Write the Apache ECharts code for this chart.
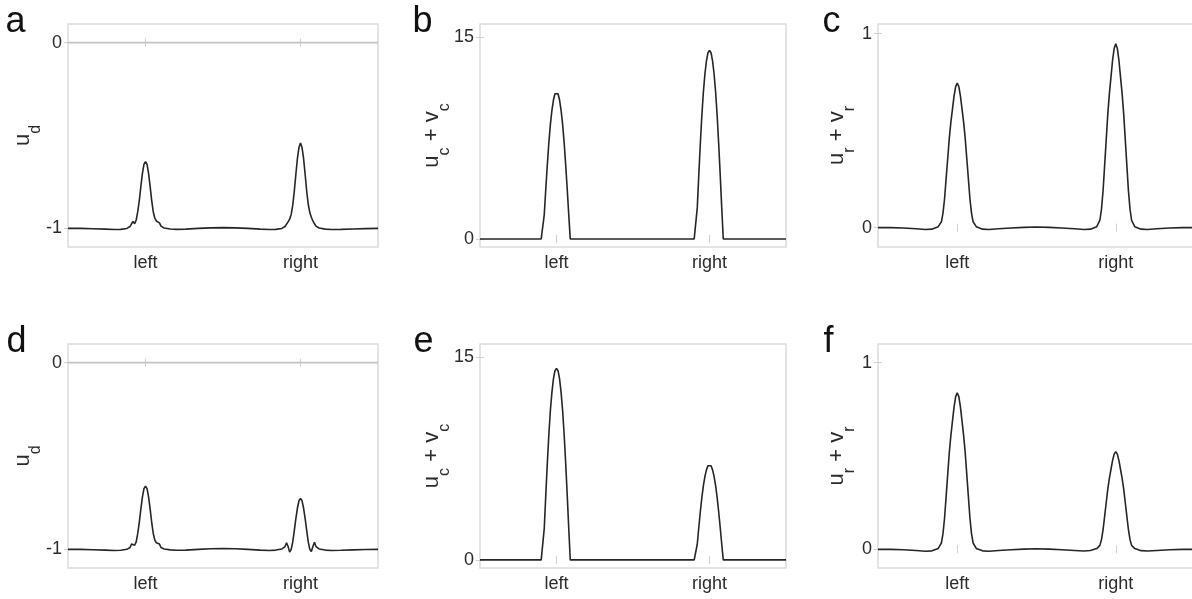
<!DOCTYPE html>
<html>
<head>
<meta charset="utf-8">
<script src="https://cdn.jsdelivr.net/npm/echarts@6/dist/echarts.min.js"></script>
<style>
html,body{margin:0;padding:0;background:#fff;}
#chart{width:1192px;height:599px;}
</style>
</head>
<body>
<div id="chart"></div>
<script>
// shared sample positions along the track (0 = start, 1 = end)
const xs = [0, 0.04, 0.08, 0.12, 0.15, 0.17, 0.19,
  0.2, 0.205, 0.21, 0.215, 0.22, 0.225, 0.23, 0.235, 0.24, 0.245, 0.25, 0.255, 0.26, 0.265, 0.27, 0.275, 0.28, 0.285, 0.29, 0.295, 0.3,
  0.31, 0.33, 0.35, 0.38, 0.42, 0.46, 0.5, 0.54, 0.58, 0.62, 0.65, 0.67, 0.69,
  0.7, 0.705, 0.71, 0.715, 0.72, 0.725, 0.73, 0.735, 0.74, 0.745, 0.75, 0.755, 0.76, 0.765, 0.77, 0.775, 0.78, 0.785, 0.79, 0.795, 0.8,
  0.81, 0.83, 0.85, 0.88, 0.92, 0.96, 1];

const xTickPos = [0.25, 0.75];
const xTickLabels = ['left', 'right'];

// panel a: u_d
const udA = [-1.0, -1.0, -1.002, -1.004, -1.006, -1.005, -1.0,
  -0.99, -0.975, -0.963, -0.975, -0.955, -0.91, -0.85, -0.775, -0.705, -0.655, -0.64, -0.655, -0.705, -0.775, -0.85, -0.91, -0.945, -0.96, -0.963, -0.97, -0.988,
  -0.998, -1.003, -1.005, -1.004, -1.0, -0.997, -0.996, -0.997, -1.0, -1.004, -1.006, -1.005, -1.0,
  -0.99, -0.98, -0.965, -0.95, -0.925, -0.875, -0.8, -0.71, -0.625, -0.565, -0.54, -0.565, -0.625, -0.71, -0.8, -0.87, -0.915, -0.94, -0.96, -0.975, -0.988,
  -0.998, -1.004, -1.006, -1.005, -1.003, -1.001, -1.0];
// panel b: u_c + v_c
const scB = [0, 0, 0, 0, 0, 0, 0,
  0, 0, 1.81, 3.72, 5.52, 7.17, 8.53, 9.57, 10.34, 10.81, 10.94, 10.81, 10.34, 9.57, 8.53, 7.17, 5.52, 3.72, 1.81, 0, 0,
  0, 0, 0, 0, 0, 0, 0, 0, 0, 0, 0, 0, 0,
  0, 0, 2.31, 4.77, 7.09, 9.19, 10.94, 12.28, 13.26, 13.86, 14.03, 13.86, 13.26, 12.28, 10.94, 9.19, 7.09, 4.77, 2.31, 0, 0,
  0, 0, 0, 0, 0, 0, 0];
// panel c: u_r + v_r
const srC = [0, 0.0, -0.002, -0.006, -0.01, -0.008, 0.005,
  0.03, 0.075, 0.149, 0.254, 0.358, 0.463, 0.545, 0.612, 0.679, 0.727, 0.746, 0.727, 0.679, 0.612, 0.545, 0.463, 0.358, 0.254, 0.149, 0.075, 0.03,
  0.005, -0.008, -0.01, -0.006, -0.002, 0.001, 0.003, 0.001, -0.002, -0.006, -0.01, -0.008, 0.005,
  0.038, 0.095, 0.19, 0.322, 0.455, 0.588, 0.692, 0.777, 0.863, 0.924, 0.948, 0.924, 0.863, 0.777, 0.692, 0.588, 0.455, 0.322, 0.19, 0.095, 0.038,
  0.005, -0.008, -0.01, -0.006, -0.002, 0.0, 0];
// panel d: u_d
const udD = [-1.0, -1.0, -1.002, -1.004, -1.006, -1.005, -1.0,
  -0.99, -0.972, -0.962, -0.978, -0.96, -0.915, -0.855, -0.785, -0.72, -0.675, -0.661, -0.675, -0.72, -0.785, -0.855, -0.915, -0.95, -0.965, -0.96, -0.972, -0.99,
  -0.998, -1.003, -1.005, -1.004, -1.0, -0.997, -0.996, -0.997, -1.0, -1.004, -1.006, -1.004, -0.998,
  -0.985, -0.965, -0.985, -1.015, -1.0, -0.96, -0.9, -0.835, -0.78, -0.74, -0.727, -0.74, -0.78, -0.835, -0.9, -0.96, -1.0, -1.012, -0.985, -0.962, -0.985,
  -0.998, -1.004, -1.006, -1.005, -1.003, -1.001, -1.0];
// panel e: u_c + v_c
const scE = [0, 0, 0, 0, 0, 0, 0,
  0, 0, 2.34, 4.82, 7.17, 9.29, 11.07, 12.42, 13.41, 14.02, 14.19, 14.02, 13.41, 12.42, 11.07, 9.29, 7.17, 4.82, 2.34, 0, 0,
  0, 0, 0, 0, 0, 0, 0, 0, 0, 0, 0, 0, 0,
  0, 0, 1.16, 2.40, 3.57, 4.62, 5.51, 6.18, 6.67, 6.98, 7.06, 6.98, 6.67, 6.18, 5.51, 4.62, 3.57, 2.40, 1.16, 0, 0,
  0, 0, 0, 0, 0, 0, 0];
// panel f: u_r + v_r
const srF = [0, 0.0, -0.002, -0.006, -0.01, -0.008, 0.005,
  0.034, 0.084, 0.168, 0.285, 0.403, 0.52, 0.612, 0.688, 0.763, 0.818, 0.839, 0.818, 0.763, 0.688, 0.612, 0.52, 0.403, 0.285, 0.168, 0.084, 0.034,
  0.005, -0.008, -0.01, -0.006, -0.002, 0.001, 0.003, 0.001, -0.002, -0.006, -0.009, -0.006, 0.004,
  0.021, 0.052, 0.105, 0.178, 0.251, 0.324, 0.382, 0.429, 0.476, 0.51, 0.523, 0.51, 0.476, 0.429, 0.382, 0.324, 0.251, 0.178, 0.105, 0.052, 0.021,
  0.004, -0.007, -0.009, -0.006, -0.002, 0.0, 0];

const zeroLine = [0, 0];          // reference level drawn in panels a and d
const zeroLineX = [0, 1];

const yTicksD = [-1, 0];
const yTicksC = [0, 15];
const yTicksR = [0, 1];

const panelLetters = ['a', 'b', 'c', 'd', 'e', 'f'];

const FONT = "'Liberation Sans', Arial, Helvetica, sans-serif";
const TXT = '#2b2b2b';
const FRAME = '#dcdcdc';

const panels = [
  {grid: {left: 68, top: 24, width: 310, height: 223}, y: udA, min: -1.1, max: 0.1, ticks: yTicksD, name: '{m|u}{s|d}', gap: 24, zero: true, letter: {x: 5.5, y: 4}},
  {grid: {left: 480, top: 24, width: 306, height: 223}, y: scB, min: -0.6, max: 16, ticks: yTicksC, name: '{m|u}{s|c}{m| + v}{s|c}', gap: 27, zero: false, letter: {x: 412.5, y: 4}},
  {grid: {left: 878, top: 24, width: 317, height: 223}, y: srC, min: -0.1, max: 1.05, ticks: yTicksR, name: '{m|u}{s|r}{m| + v}{s|r}', gap: 20, zero: false, letter: {x: 822.5, y: 4}},
  {grid: {left: 68, top: 344, width: 310, height: 224}, y: udD, min: -1.1, max: 0.1, ticks: yTicksD, name: '{m|u}{s|d}', gap: 24, zero: true, letter: {x: 6.5, y: 324}},
  {grid: {left: 480, top: 344, width: 306, height: 224}, y: scE, min: -0.6, max: 16, ticks: yTicksC, name: '{m|u}{s|c}{m| + v}{s|c}', gap: 27, zero: false, letter: {x: 413.5, y: 324}},
  {grid: {left: 878, top: 344, width: 317, height: 224}, y: srF, min: -0.1, max: 1.1, ticks: yTicksR, name: '{m|u}{s|r}{m| + v}{s|r}', gap: 20, zero: false, letter: {x: 823.5, y: 324}}
];

const grids = [], xAxes = [], yAxes = [], series = [], graphics = [];
const tickStyle = {show: true, inside: true, length: 4, lineStyle: {color: '#cfcfcf', width: 1}};

panels.forEach((p, i) => {
  grids.push(Object.assign({show: true, borderColor: FRAME, borderWidth: 1.5, backgroundColor: 'transparent', containLabel: false, outerBoundsMode: 'none'}, p.grid));
  const xBase = {type: 'value', gridIndex: i, min: 0, max: 1, splitLine: {show: false}, axisLine: {show: false}};
  xAxes.push(Object.assign({}, xBase, {
    position: 'bottom',
    axisTick: Object.assign({}, tickStyle, {customValues: xTickPos}),
    axisLabel: {customValues: xTickPos, formatter: v => xTickLabels[xTickPos.indexOf(v)] || '', color: TXT, fontSize: 18, fontFamily: FONT, margin: 7}
  }));
  xAxes.push(Object.assign({}, xBase, {
    position: 'top',
    axisTick: Object.assign({}, tickStyle, {customValues: xTickPos}),
    axisLabel: {show: false}
  }));
  const yBase = {type: 'value', gridIndex: i, min: p.min, max: p.max, splitLine: {show: false}, axisLine: {show: false}};
  yAxes.push(Object.assign({}, yBase, {
    position: 'left',
    axisTick: Object.assign({}, tickStyle, {customValues: p.ticks}),
    axisLabel: {customValues: p.ticks, color: TXT, fontSize: 18, fontFamily: FONT, margin: 6},
    name: p.name,
    nameLocation: 'middle',
    nameRotate: 90,
    nameGap: p.gap,
    nameMoveOverlap: false,
    nameTextStyle: {
      color: TXT,
      rich: {
        m: {fontSize: 22, lineHeight: 24, verticalAlign: 'top', fontFamily: FONT, color: TXT},
        s: {fontSize: 16, lineHeight: 32, verticalAlign: 'bottom', fontFamily: FONT, color: TXT}
      }
    }
  }));
  yAxes.push(Object.assign({}, yBase, {
    position: 'right',
    axisTick: Object.assign({}, tickStyle, {customValues: p.ticks}),
    axisLabel: {show: false}
  }));
  if (p.zero) {
    series.push({
      type: 'line', xAxisIndex: 2 * i, yAxisIndex: 2 * i, silent: true, symbol: 'none',
      lineStyle: {color: '#c4c4c4', width: 1.6},
      data: zeroLineX.map((x, k) => [x, zeroLine[k]])
    });
  }
  series.push({
    type: 'line', xAxisIndex: 2 * i, yAxisIndex: 2 * i, symbol: 'none', silent: true,
    lineStyle: {color: '#262626', width: 1.6},
    data: xs.map((x, k) => [x, p.y[k]])
  });
  graphics.push({
    type: 'text', left: p.letter.x, top: p.letter.y,
    style: {text: panelLetters[i], font: '36px ' + FONT, fill: '#111'}
  });
});

const chart = echarts.init(document.getElementById('chart'), null, {renderer: 'canvas'});
chart.setOption({
  animation: false,
  backgroundColor: '#fff',
  grid: grids,
  xAxis: xAxes,
  yAxis: yAxes,
  series: series,
  graphic: graphics
});
</script>
</body>
</html>
